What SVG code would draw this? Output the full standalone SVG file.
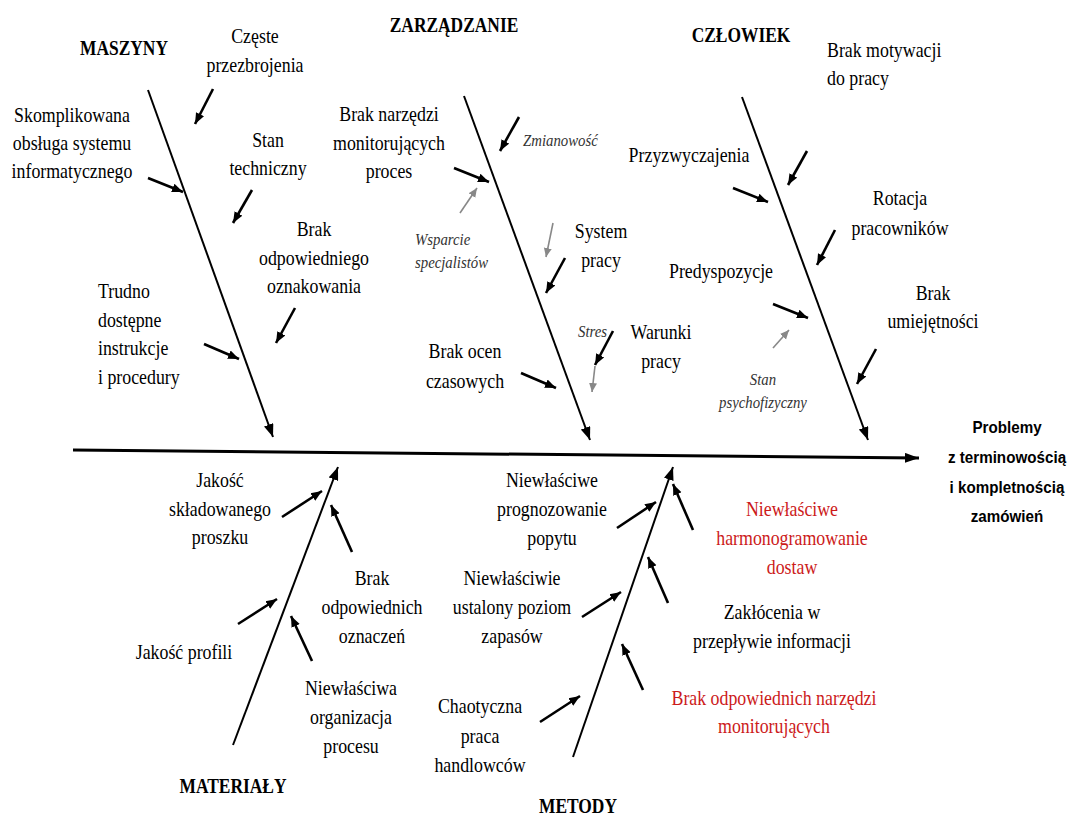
<svg xmlns="http://www.w3.org/2000/svg" width="1072" height="818" viewBox="0 0 1072 818">
<style>
.t{font-family:"Liberation Serif","Times New Roman",Tinos,serif;font-size:21px;fill:#000;text-anchor:middle}
.l{text-anchor:start}
.h{font-weight:bold;font-size:20px}
.i{font-style:italic;font-size:17px;fill:#333}
.r{fill:#cc1a1a}
.p{font-family:"Liberation Sans",Arial,sans-serif;font-weight:bold;font-size:16px}
.bone{stroke:#000;stroke-width:2;fill:none;marker-end:url(#ab)}
.sub{stroke:#000;stroke-width:2.6;fill:none;marker-end:url(#as)}
.gr{stroke:#888;stroke-width:1.6;fill:none;marker-end:url(#ag)}
</style>
<defs>
<marker id="ab" markerUnits="userSpaceOnUse" markerWidth="14" markerHeight="10" refX="13" refY="5" orient="auto"><path d="M0,0 L13,5 L0,10 z" fill="#000"/></marker>
<marker id="as" markerUnits="userSpaceOnUse" markerWidth="12" markerHeight="10" refX="11" refY="5" orient="auto"><path d="M0,0.5 L11,5 L0,9.5 z" fill="#000"/></marker>
<marker id="ag" markerUnits="userSpaceOnUse" markerWidth="10" markerHeight="9" refX="9" refY="4.5" orient="auto"><path d="M0,0.5 L9,4.5 L0,8.5 z" fill="#888"/></marker>
<marker id="asp" markerUnits="userSpaceOnUse" markerWidth="15" markerHeight="10" refX="14" refY="5" orient="auto"><path d="M0,0 L14,5 L0,10 z" fill="#000"/></marker>
</defs>
<rect width="1072" height="818" fill="#fff"/>
<g id="connectors">
<line x1="73" y1="450" x2="919" y2="458" stroke="#000" stroke-width="3" marker-end="url(#asp)"/>
<line class="bone" x1="148" y1="90" x2="273" y2="437"/>
<line class="bone" x1="464" y1="96" x2="590" y2="440"/>
<line class="bone" x1="742" y1="97" x2="868" y2="440"/>
<line class="bone" x1="233" y1="745" x2="338" y2="467"/>
<line class="bone" x1="573" y1="757" x2="673" y2="467"/>
<line class="sub" x1="213" y1="89" x2="195" y2="124"/>
<line class="sub" x1="148" y1="178" x2="183" y2="192"/>
<line class="sub" x1="252" y1="190" x2="233" y2="223"/>
<line class="sub" x1="295" y1="308" x2="276" y2="343"/>
<line class="sub" x1="204" y1="344" x2="239" y2="359"/>
<line class="sub" x1="519" y1="117" x2="500" y2="151"/>
<line class="sub" x1="454" y1="168" x2="489" y2="182"/>
<line class="gr" x1="460" y1="213" x2="477" y2="188"/>
<line class="gr" x1="553" y1="223" x2="546" y2="257"/>
<line class="sub" x1="565" y1="258" x2="546" y2="293"/>
<line class="sub" x1="613" y1="331" x2="595" y2="365"/>
<line class="gr" x1="595" y1="366" x2="592" y2="392"/>
<line class="sub" x1="521" y1="373" x2="556" y2="388"/>
<line class="sub" x1="807" y1="151" x2="788" y2="185"/>
<line class="sub" x1="733" y1="188" x2="768" y2="202"/>
<line class="sub" x1="835" y1="230" x2="817" y2="265"/>
<line class="sub" x1="773" y1="304" x2="808" y2="318"/>
<line class="gr" x1="773" y1="348" x2="789" y2="330"/>
<line class="sub" x1="876" y1="349" x2="857" y2="384"/>
<line class="sub" x1="282" y1="517" x2="322" y2="491"/>
<line class="sub" x1="352" y1="552" x2="331" y2="505"/>
<line class="sub" x1="238" y1="624" x2="277" y2="599"/>
<line class="sub" x1="312" y1="661" x2="291" y2="616"/>
<line class="sub" x1="617" y1="528" x2="656" y2="502"/>
<line class="sub" x1="693" y1="530" x2="673" y2="484"/>
<line class="sub" x1="582" y1="617" x2="621" y2="592"/>
<line class="sub" x1="668" y1="603" x2="648" y2="557"/>
<line class="sub" x1="540" y1="722" x2="580" y2="696"/>
<line class="sub" x1="643" y1="690" x2="622" y2="644"/>
</g>
<g id="cat-maszyny"><text class="t h" transform="translate(124,55) scale(0.87,1)">MASZYNY</text></g>
<g id="cat-zarzadzanie"><text class="t h" transform="translate(454,32) scale(0.87,1)">ZARZĄDZANIE</text></g>
<g id="cat-czlowiek"><text class="t h" transform="translate(741,42) scale(0.87,1)">CZŁOWIEK</text></g>
<g id="cat-materialy"><text class="t h" transform="translate(233,793) scale(0.87,1)">MATERIAŁY</text></g>
<g id="cat-metody"><text class="t h" transform="translate(578,813) scale(0.87,1)">METODY</text></g>
<g id="effect"><text class="t p" transform="translate(1007,0) scale(0.95,1)"><tspan x="0" y="433">Problemy</tspan><tspan x="0" y="463">z terminowością</tspan><tspan x="0" y="493">i  kompletnością</tspan><tspan x="0" y="522">zamówień</tspan></text></g>
<g id="n-czeste"><text class="t" transform="translate(255,0) scale(0.85,1)"><tspan x="0" y="43">Częste</tspan><tspan x="0" y="72">przezbrojenia</tspan></text></g>
<g id="n-skomplikowana"><text class="t" transform="translate(72,0) scale(0.85,1)"><tspan x="0" y="122">Skomplikowana</tspan><tspan x="0" y="150">obsługa systemu</tspan><tspan x="0" y="178">informatycznego</tspan></text></g>
<g id="n-stan-techniczny"><text class="t" transform="translate(268,0) scale(0.85,1)"><tspan x="0" y="147">Stan</tspan><tspan x="0" y="175">techniczny</tspan></text></g>
<g id="n-oznakowania"><text class="t" transform="translate(314,0) scale(0.85,1)"><tspan x="0" y="236">Brak</tspan><tspan x="0" y="265">odpowiedniego</tspan><tspan x="0" y="293">oznakowania</tspan></text></g>
<g id="n-trudno"><text class="t l" transform="translate(98,0) scale(0.85,1)"><tspan x="0" y="298">Trudno</tspan><tspan x="0" y="327">dostępne</tspan><tspan x="0" y="355">instrukcje</tspan><tspan x="0" y="384">i procedury</tspan></text></g>
<g id="n-narzedzi-proces"><text class="t" transform="translate(389,0) scale(0.85,1)"><tspan x="0" y="121">Brak narzędzi</tspan><tspan x="0" y="150">monitorujących</tspan><tspan x="0" y="178">proces</tspan></text></g>
<g id="n-zmianowosc"><text class="t i l" transform="translate(523,146) scale(0.87,1)">Zmianowość</text></g>
<g id="n-wsparcie"><text class="t i l" transform="translate(415,0) scale(0.87,1)"><tspan x="0" y="245">Wsparcie</tspan><tspan x="0" y="268">specjalistów</tspan></text></g>
<g id="n-system"><text class="t" transform="translate(601,0) scale(0.85,1)"><tspan x="0" y="238">System</tspan><tspan x="0" y="267">pracy</tspan></text></g>
<g id="n-stres"><text class="t i l" transform="translate(578,337) scale(0.87,1)">Stres</text></g>
<g id="n-warunki"><text class="t" transform="translate(661,0) scale(0.85,1)"><tspan x="0" y="339">Warunki</tspan><tspan x="0" y="368">pracy</tspan></text></g>
<g id="n-oceny"><text class="t" transform="translate(465,0) scale(0.85,1)"><tspan x="0" y="358">Brak ocen</tspan><tspan x="0" y="388">czasowych</tspan></text></g>
<g id="n-motywacja"><text class="t l" transform="translate(827,0) scale(0.85,1)"><tspan x="0" y="57">Brak motywacji</tspan><tspan x="0" y="85">do pracy</tspan></text></g>
<g id="n-przyzwyczajenia"><text class="t" transform="translate(689,162) scale(0.85,1)">Przyzwyczajenia</text></g>
<g id="n-rotacja"><text class="t" transform="translate(900,0) scale(0.85,1)"><tspan x="0" y="205">Rotacja</tspan><tspan x="0" y="235">pracowników</tspan></text></g>
<g id="n-predyspozycje"><text class="t" transform="translate(721,278) scale(0.85,1)">Predyspozycje</text></g>
<g id="n-umiejetnosci"><text class="t" transform="translate(933,0) scale(0.85,1)"><tspan x="0" y="300">Brak</tspan><tspan x="0" y="328">umiejętności</tspan></text></g>
<g id="n-psychofizyczny"><text class="t i" transform="translate(763,0) scale(0.87,1)"><tspan x="0" y="385">Stan</tspan><tspan x="0" y="408">psychofizyczny</tspan></text></g>
<g id="n-proszek"><text class="t" transform="translate(220,0) scale(0.85,1)"><tspan x="0" y="487">Jakość</tspan><tspan x="0" y="516">składowanego</tspan><tspan x="0" y="544">proszku</tspan></text></g>
<g id="n-oznaczenia"><text class="t" transform="translate(372,0) scale(0.85,1)"><tspan x="0" y="585">Brak</tspan><tspan x="0" y="614">odpowiednich</tspan><tspan x="0" y="643">oznaczeń</tspan></text></g>
<g id="n-profile"><text class="t" transform="translate(184,659) scale(0.85,1)">Jakość profili</text></g>
<g id="n-organizacja"><text class="t" transform="translate(351,0) scale(0.85,1)"><tspan x="0" y="695">Niewłaściwa</tspan><tspan x="0" y="724">organizacja</tspan><tspan x="0" y="753">procesu</tspan></text></g>
<g id="n-prognozowanie"><text class="t" transform="translate(552,0) scale(0.85,1)"><tspan x="0" y="487">Niewłaściwe</tspan><tspan x="0" y="516">prognozowanie</tspan><tspan x="0" y="545">popytu</tspan></text></g>
<g id="n-harmonogramowanie"><text class="t r" transform="translate(792,0) scale(0.85,1)"><tspan x="0" y="516">Niewłaściwe</tspan><tspan x="0" y="545">harmonogramowanie</tspan><tspan x="0" y="574">dostaw</tspan></text></g>
<g id="n-zapasy"><text class="t" transform="translate(512,0) scale(0.85,1)"><tspan x="0" y="585">Niewłaściwie</tspan><tspan x="0" y="614">ustalony poziom</tspan><tspan x="0" y="643">zapasów</tspan></text></g>
<g id="n-zaklocenia"><text class="t" transform="translate(772,0) scale(0.85,1)"><tspan x="0" y="619">Zakłócenia w</tspan><tspan x="0" y="648">przepływie informacji</tspan></text></g>
<g id="n-narzedzia-monit"><text class="t r" transform="translate(774,0) scale(0.85,1)"><tspan x="0" y="705">Brak odpowiednich narzędzi</tspan><tspan x="0" y="733">monitorujących</tspan></text></g>
<g id="n-chaotyczna"><text class="t" transform="translate(480,0) scale(0.85,1)"><tspan x="0" y="713">Chaotyczna</tspan><tspan x="0" y="743">praca</tspan><tspan x="0" y="772">handlowców</tspan></text></g>
</svg>
